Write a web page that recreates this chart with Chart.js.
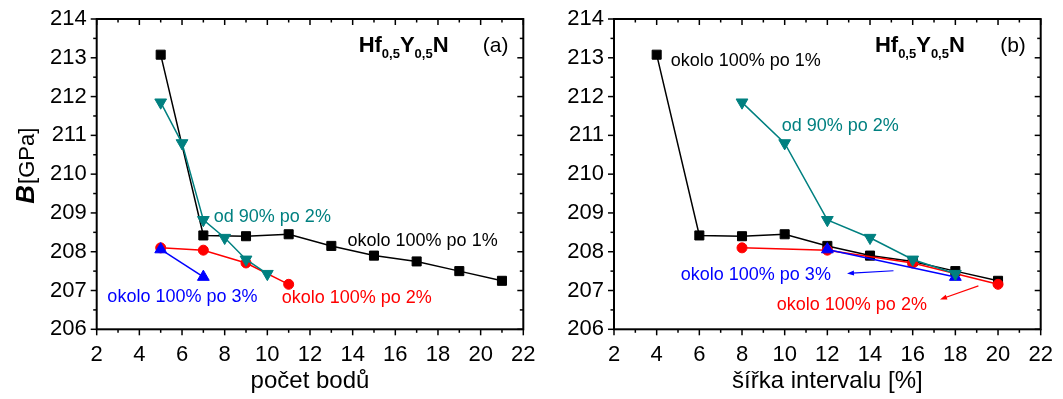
<!DOCTYPE html>
<html>
<head>
<meta charset="utf-8">
<script src="https://cdn.jsdelivr.net/npm/chart.js@4.4.1/dist/chart.umd.min.js"></script>
<style>
  html, body { margin: 0; padding: 0; background: #fff; }
  #wrap { position: relative; width: 1063px; height: 399px; }
  #chartA { position: absolute; left: 0; top: 0; }
  #chartB { position: absolute; left: 540px; top: 0; }
</style>
</head>
<body>
<div id="wrap">
  <canvas id="chartA" width="540" height="399"></canvas>
  <canvas id="chartB" width="523" height="399"></canvas>
</div>
<script>
// x values, panel (a): number of points
const countBlack = [5, 7, 9, 11, 13, 15, 17, 19, 21];
const countTeal = [5, 6, 7, 8, 9, 10];
const countRed = [5, 7, 9, 11];
const countBlue = [5, 7];

// x values, panel (b): interval width [%]
const widthBlack = [4, 6, 8, 10, 12, 14, 16, 18, 20];
const widthTeal = [8, 10, 12, 14, 16, 18];
const widthRed = [8, 12, 16, 20];
const widthBlue = [12, 18];

// B [GPa]
const blackY = [213.08, 208.42, 208.40, 208.45, 208.15, 207.90, 207.75, 207.50, 207.25];
const tealY = [211.85, 210.80, 208.82, 208.36, 207.80, 207.43];
const redY = [208.10, 208.04, 207.71, 207.16];
const blueY = [208.06, 207.35];

const xTicks = [2, 4, 6, 8, 10, 12, 14, 16, 18, 20, 22];
const yTicks = [206, 207, 208, 209, 210, 211, 212, 213, 214];

const FONT = "'Liberation Sans', Arial, sans-serif";
const TEAL = '#008080';

function pts(xs, ys) {
  return xs.map((x, i) => ({ x: x, y: ys[i] }));
}

function series(label, data, color, style, radius, rotation) {
  return {
    label: label,
    data: data,
    showLine: true,
    borderColor: color,
    backgroundColor: color,
    borderWidth: 1.5,
    pointStyle: style,
    pointRadius: radius,
    pointRotation: rotation || 0,
    pointBorderWidth: 1,
    pointBorderColor: color,
    pointBackgroundColor: color
  };
}

function line(ctx, x1, y1, x2, y2) {
  ctx.beginPath();
  ctx.moveTo(x1, y1);
  ctx.lineTo(x2, y2);
  ctx.stroke();
}

// frame, minor ticks, mirror ticks, titles and notes
const decor = {
  id: 'decor',
  afterDatasetsDraw(chart, args, opts) {
    const { ctx, chartArea: a } = chart;
    const x = chart.scales.x, y = chart.scales.y;
    ctx.save();
    ctx.strokeStyle = '#000';
    ctx.lineWidth = 1.5;
    for (let v = xTicks[0]; v <= xTicks[xTicks.length - 1]; v += 1) {
      const px = x.getPixelForValue(v);
      const len = v % 2 === 0 ? 6 : 3.5;
      line(ctx, px, a.bottom, px, a.bottom + len);
      line(ctx, px, a.top, px, a.top + len);
    }
    for (let v = yTicks[0]; v <= yTicks[yTicks.length - 1]; v += 0.5) {
      const py = y.getPixelForValue(v);
      const len = v % 1 === 0 ? 6 : 3.5;
      line(ctx, a.left - len, py, a.left, py);
      line(ctx, a.right - len, py, a.right, py);
    }
    ctx.lineWidth = 2;
    ctx.strokeRect(a.left, a.top, a.right - a.left, a.bottom - a.top);

    // compound label Hf0,5Y0,5N
    let cx = x.getPixelForValue(opts.formula[0]);
    const by = y.getPixelForValue(opts.formula[1]);
    ctx.fillStyle = '#000';
    ctx.textBaseline = 'alphabetic';
    ctx.textAlign = 'left';
    const parts = [['Hf', 0], ['0,5', 1], ['Y', 0], ['0,5', 1], ['N', 0]];
    parts.forEach(p => {
      ctx.font = p[1] ? 'bold 13px ' + FONT : 'bold 22px ' + FONT;
      ctx.fillText(p[0], cx, by + (p[1] ? 6 : 0));
      cx += ctx.measureText(p[0]).width;
    });
    ctx.font = '21px ' + FONT;
    ctx.fillText(opts.tag, x.getPixelForValue(20.1), by);

    // text notes
    ctx.textBaseline = 'middle';
    ctx.font = '18px ' + FONT;
    opts.notes.forEach(n => {
      ctx.fillStyle = n.color;
      ctx.fillText(n.text, x.getPixelForValue(n.x), y.getPixelForValue(n.y));
    });

    // arrows
    (opts.arrows || []).forEach(ar => {
      const x1 = x.getPixelForValue(ar.from[0]), y1 = y.getPixelForValue(ar.from[1]);
      const x2 = x.getPixelForValue(ar.to[0]), y2 = y.getPixelForValue(ar.to[1]);
      const ang = Math.atan2(y2 - y1, x2 - x1);
      ctx.strokeStyle = ar.color;
      ctx.fillStyle = ar.color;
      ctx.lineWidth = 1.2;
      line(ctx, x1, y1, x2 - 5 * Math.cos(ang), y2 - 5 * Math.sin(ang));
      ctx.beginPath();
      ctx.moveTo(x2, y2);
      ctx.lineTo(x2 - 7 * Math.cos(ang) + 2.5 * Math.sin(ang), y2 - 7 * Math.sin(ang) - 2.5 * Math.cos(ang));
      ctx.lineTo(x2 - 7 * Math.cos(ang) - 2.5 * Math.sin(ang), y2 - 7 * Math.sin(ang) + 2.5 * Math.cos(ang));
      ctx.closePath();
      ctx.fill();
    });

    // axis titles
    ctx.fillStyle = '#000';
    ctx.textAlign = 'center';
    ctx.textBaseline = 'alphabetic';
    ctx.font = '24px ' + FONT;
    ctx.fillText(opts.xTitle, (a.left + a.right) / 2, 388);

    if (opts.yTitle) {
      ctx.save();
      ctx.translate(34, (a.top + a.bottom) / 2 - 8);
      ctx.rotate(-Math.PI / 2);
      ctx.textAlign = 'left';
      ctx.font = 'italic bold 26px ' + FONT;
      const w1 = ctx.measureText('B').width;
      ctx.font = '22px ' + FONT;
      const w2 = ctx.measureText('[GPa]').width;
      let sx = -(w1 + w2) / 2;
      ctx.font = 'italic bold 26px ' + FONT;
      ctx.fillText('B', sx, 0);
      ctx.font = '22px ' + FONT;
      ctx.fillText('[GPa]', sx + w1 + 1, 0);
      ctx.restore();
    }
    ctx.restore();
  }
};

function makeChart(id, xs, yAxisWidth, rightPad, plugOpts) {
  return new Chart(document.getElementById(id), {
    type: 'scatter',
    data: {
      datasets: [
        series('od 90% po 2%', pts(xs.teal, tealY), TEAL, 'triangle', 6.8, 180),
        series('okolo 100% po 3%', pts(xs.blue, blueY), '#0000ff', 'triangle', 6.8, 0),
        series('okolo 100% po 2%', pts(xs.red, redY), '#ff0000', 'circle', 5),
        series('okolo 100% po 1%', pts(xs.black, blackY), '#000000', 'rect', 6.4)
      ]
    },
    options: {
      responsive: false,
      animation: false,
      events: [],
      layout: { padding: { top: 19, right: rightPad, left: 0, bottom: 0 } },
      plugins: {
        legend: { display: false },
        tooltip: { enabled: false },
        decor: plugOpts
      },
      scales: {
        x: {
          type: 'linear',
          min: xTicks[0],
          max: xTicks[xTicks.length - 1],
          afterBuildTicks: s => { s.ticks = xTicks.map(v => ({ value: v })); },
          grid: { display: false, drawTicks: false },
          border: { display: false },
          ticks: { color: '#000', font: { family: FONT, size: 22 }, padding: 12, maxRotation: 0 },
          afterFit: s => { s.height = 69.7; s.paddingLeft = 0; s.paddingRight = 0; }
        },
        y: {
          type: 'linear',
          min: yTicks[0],
          max: yTicks[yTicks.length - 1],
          afterBuildTicks: s => { s.ticks = yTicks.map(v => ({ value: v })); },
          grid: { display: false, drawTicks: false },
          border: { display: false },
          ticks: { color: '#000', font: { family: FONT, size: 22 }, padding: 10 },
          afterFit: s => { s.width = yAxisWidth; s.paddingTop = 0; s.paddingBottom = 0; }
        }
      }
    },
    plugins: [decor]
  });
}

makeChart('chartA',
  { black: countBlack, teal: countTeal, red: countRed, blue: countBlue },
  96.7, 16.7,
  {
    formula: [14.28, 213.15],
    tag: '(a)',
    xTitle: 'počet bodů',
    yTitle: true,
    notes: [
      { text: 'od 90% po 2%', x: 7.49, y: 208.9, color: TEAL },
      { text: 'okolo 100% po 1%', x: 13.76, y: 208.27, color: '#000' },
      { text: 'okolo 100% po 3%', x: 2.5, y: 206.84, color: '#0000ff' },
      { text: 'okolo 100% po 2%', x: 10.67, y: 206.8, color: '#ff0000' }
    ]
  });

makeChart('chartB',
  { black: widthBlack, teal: widthTeal, red: widthRed, blue: widthBlue },
  74, 22.3,
  {
    formula: [14.23, 213.15],
    tag: '(b)',
    xTitle: 'šířka intervalu [%]',
    yTitle: false,
    notes: [
      { text: 'okolo 100% po 1%', x: 4.66, y: 212.92, color: '#000' },
      { text: 'od 90% po 2%', x: 9.86, y: 211.24, color: TEAL },
      { text: 'okolo 100% po 3%', x: 5.13, y: 207.4, color: '#0000ff' },
      { text: 'okolo 100% po 2%', x: 9.63, y: 206.63, color: '#ff0000' }
    ],
    arrows: [
      { from: [15.1, 207.51], to: [12.92, 207.44], color: '#0000ff' },
      { from: [19.08, 207.12], to: [17.28, 206.77], color: '#ff0000' }
    ]
  });
</script>
</body>
</html>
